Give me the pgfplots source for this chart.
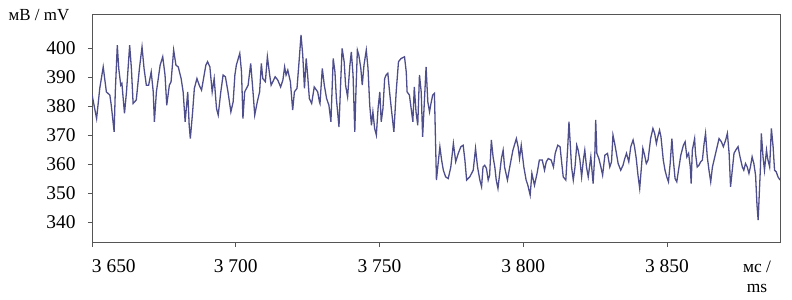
\documentclass[border=0pt]{standalone}
\usepackage{fontspec}
\setmainfont{Liberation Serif}
\usepackage{pgfplots}
\pgfplotsset{compat=1.18}
\definecolor{sig}{RGB}{78,78,140}
\definecolor{axc}{RGB}{85,85,85}
\pgfplotstableread{
x y
3650.0 384.0
3651.6 375.7
3652.7 386.1
3653.9 393.5
3655.0 384.9
3656.2 383.8
3656.7 380.3
3657.7 371.1
3658.1 384.9
3658.8 401.0
3659.3 393.0
3660.0 387.2
3660.4 387.8
3661.3 377.5
3662.0 384.9
3663.1 401.0
3663.7 393.0
3664.3 380.9
3665.4 382.1
3666.5 393.0
3667.4 400.4
3668.1 393.0
3668.9 387.2
3669.7 387.2
3670.6 391.8
3671.3 384.9
3671.7 374.6
3672.4 384.9
3673.7 394.1
3674.6 397.0
3675.4 390.7
3676.0 380.3
3676.9 387.2
3677.5 388.4
3678.4 399.3
3679.2 394.1
3680.0 393.5
3681.0 389.5
3681.7 384.9
3682.4 374.6
3683.3 384.9
3683.8 373.4
3684.2 368.8
3685.0 378.0
3685.6 386.1
3686.5 389.5
3687.3 387.2
3688.1 385.5
3689.6 394.1
3690.2 395.3
3691.0 393.5
3691.8 384.9
3692.5 389.5
3693.3 379.2
3693.9 376.9
3694.8 384.9
3695.6 390.7
3696.4 390.1
3697.3 384.9
3698.3 378.0
3699.1 381.5
3699.7 390.7
3700.2 394.1
3701.4 398.2
3702.0 391.8
3702.5 375.7
3703.1 384.9
3704.3 387.2
3705.2 394.7
3706.0 384.9
3706.6 376.9
3707.5 381.5
3708.3 384.9
3708.9 394.7
3709.4 389.5
3710.3 388.4
3711.0 397.0
3711.8 390.7
3712.3 387.2
3712.9 388.4
3713.7 390.1
3714.6 389.0
3715.6 386.6
3716.4 389.0
3717.0 393.5
3717.5 390.7
3718.1 392.4
3719.0 388.4
3719.8 378.6
3720.4 384.9
3721.3 386.1
3722.1 396.4
3722.7 404.5
3723.3 397.6
3723.9 386.1
3724.5 396.4
3725.0 390.7
3725.6 382.6
3726.4 380.9
3727.3 386.6
3728.5 384.9
3729.1 381.5
3729.3 380.9
3730.1 393.0
3730.8 387.2
3731.6 382.6
3732.4 380.3
3733.1 374.6
3733.9 396.4
3734.5 391.8
3735.0 382.6
3735.9 372.8
3736.6 390.7
3737.0 399.9
3737.7 395.3
3738.2 387.2
3738.9 383.2
3739.7 394.1
3740.2 398.7
3740.8 390.7
3741.4 371.1
3741.8 384.9
3742.3 399.3
3742.8 397.6
3743.5 393.0
3744.0 387.2
3744.6 394.1
3745.4 399.3
3746.0 393.0
3746.6 380.3
3747.2 373.4
3747.7 378.0
3748.3 372.3
3748.9 370.0
3749.5 379.2
3750.1 384.9
3750.6 374.6
3751.2 379.2
3751.8 389.5
3752.3 390.7
3752.9 391.3
3753.5 384.9
3754.1 379.2
3755.0 371.1
3755.8 384.9
3756.6 395.3
3757.5 396.4
3758.7 397.0
3759.3 391.8
3759.6 384.9
3760.4 383.8
3761.6 374.6
3762.1 386.6
3762.7 378.0
3763.3 373.4
3763.9 390.7
3764.5 384.9
3765.0 369.4
3765.6 381.5
3766.2 393.5
3766.8 381.5
3767.4 378.0
3767.9 380.9
3768.5 383.8
3769.1 384.4
3769.8 354.5
3771.0 366.0
3771.6 361.4
3772.2 357.9
3773.0 355.6
3773.9 355.0
3774.8 359.0
3775.7 367.1
3776.5 360.8
3777.4 363.7
3778.3 366.0
3779.1 366.5
3779.7 361.4
3780.3 354.5
3781.4 355.6
3782.6 357.9
3783.4 365.4
3784.1 359.0
3784.9 354.5
3785.5 352.2
3786.0 359.0
3786.6 359.6
3787.2 358.5
3787.8 354.5
3788.3 356.2
3788.9 368.3
3789.5 362.5
3790.1 359.0
3790.6 354.5
3791.2 351.6
3791.8 356.8
3792.4 361.9
3793.0 364.8
3793.5 359.0
3794.5 354.5
3795.3 359.0
3796.4 364.8
3797.6 368.8
3798.2 366.0
3798.7 361.9
3799.3 366.5
3800.2 359.0
3801.0 354.5
3801.6 352.7
3802.4 349.3
3803.0 356.8
3803.9 352.7
3804.8 356.8
3805.6 361.4
3806.6 361.4
3807.4 357.9
3808.0 360.8
3808.7 361.9
3809.7 361.4
3810.5 359.0
3811.1 363.7
3812.0 366.5
3812.8 366.0
3813.4 360.2
3813.9 355.6
3814.8 354.5
3815.5 366.5
3815.9 374.6
3816.4 366.0
3816.8 359.0
3817.4 354.5
3818.0 359.0
3818.6 366.5
3819.1 364.8
3819.7 361.4
3820.3 355.6
3820.9 361.4
3821.4 364.8
3822.0 359.0
3822.6 355.6
3823.5 362.5
3824.3 353.3
3824.9 363.7
3825.2 375.2
3825.6 363.7
3826.3 361.9
3827.0 359.0
3827.6 356.2
3828.4 363.1
3829.3 363.7
3830.1 359.0
3830.7 360.8
3831.2 370.0
3831.8 367.1
3832.4 363.7
3833.0 360.2
3833.9 357.9
3834.7 359.6
3835.3 361.9
3835.9 363.7
3836.7 360.8
3837.4 366.0
3838.2 368.3
3838.7 366.0
3839.3 361.9
3839.9 356.2
3840.5 351.6
3841.1 359.0
3841.6 365.4
3842.2 363.1
3842.8 360.2
3843.4 361.4
3844.3 368.8
3845.1 372.3
3845.7 370.6
3846.3 367.1
3846.8 369.4
3847.4 371.7
3847.9 369.4
3848.7 361.4
3849.3 357.9
3849.9 355.6
3850.5 353.9
3851.1 360.2
3851.7 368.8
3852.2 361.4
3852.8 355.0
3853.4 353.9
3854.0 357.9
3854.8 363.1
3855.7 366.5
3856.3 367.7
3856.9 362.5
3857.5 363.7
3858.1 359.0
3858.4 353.3
3858.8 364.8
3859.6 368.8
3859.9 363.7
3860.5 359.0
3861.1 359.6
3861.7 360.8
3862.3 361.4
3862.9 367.1
3863.4 370.6
3864.0 362.5
3864.6 357.9
3865.2 353.9
3865.8 359.0
3866.9 363.7
3868.1 368.8
3868.9 367.7
3869.6 366.0
3870.4 368.3
3871.0 370.6
3871.6 363.7
3872.1 352.2
3872.7 357.9
3873.3 363.7
3873.9 364.8
3874.7 366.0
3875.4 362.5
3876.2 359.0
3876.7 357.9
3877.3 360.2
3877.9 359.0
3878.5 356.8
3879.0 359.0
3879.6 362.5
3880.2 360.2
3880.8 356.2
3881.3 345.8
3881.7 340.7
3882.1 349.9
3882.5 359.0
3882.8 370.6
3883.4 362.5
3883.9 357.9
3884.6 364.8
3885.0 361.9
3885.7 359.0
3886.3 372.3
3886.9 366.0
3887.4 357.9
3888.0 357.3
3888.6 355.6
3889.3 354.5
}\signal
\begin{document}
\begin{tikzpicture}
\path[use as bounding box] (0,0) rectangle (792bp,300bp);
\begin{axis}[
  at={(92bp,57bp)}, anchor=south west,
  scale only axis, width=688bp, height=228bp,
  xmin=3650, xmax=3889.3, ymin=332.8, ymax=411.4,
  xtick={3650,3700,3750,3800,3850},
  xticklabels={\hphantom{3 650}3 650, 3 700, 3 750, 3 800, 3 850},
  ytick={340,350,...,400},
  tick align=outside, tick pos=left,
  major tick length=4bp,
  axis line style={axc, line width=1bp},
  every tick/.style={axc, line width=0.8bp},
  /pgf/number format/assume math mode=true,
  tick label style={font=\fontsize{19.5}{21}\selectfont},
  yticklabel style={xshift=-9bp},
  xticklabel style={yshift=-9bp},
  ylabel={мВ / mV}, xlabel={мс /\\ms},
  every axis y label/.style={at={(rel axis cs:-0.077,1)}, anchor=center, font=\fontsize{17}{19}\selectfont},
  every axis x label/.style={at={(rel axis cs:0.9666,-0.149)}, anchor=center, align=center, font=\fontsize{17.5}{20}\selectfont},
]
\addplot[sig, line width=1.3bp, mark=none] table {\signal};
\end{axis}
\end{tikzpicture}
\end{document}
